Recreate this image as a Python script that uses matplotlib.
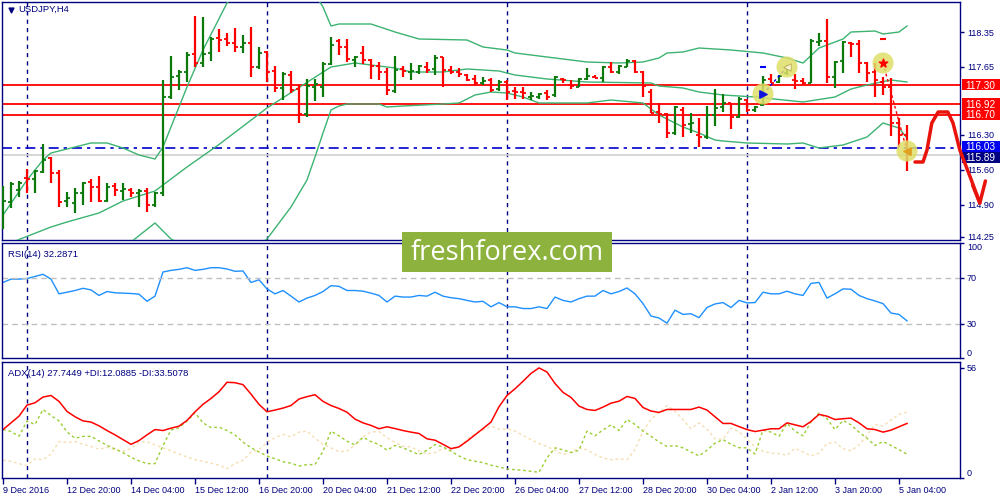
import matplotlib
matplotlib.use('Agg')
import matplotlib.pyplot as plt
import matplotlib.transforms as mtrans
from matplotlib.patches import Rectangle
import numpy as np

# USDJPY H4 bars, 9 Dec 2016 12:00 ... 5 Jan 2017 08:00
opens = [114.79, 114.95, 115.19, 115.43, 115.41, 115.55, 115.83, 115.53, 114.97, 114.93,
         115.13, 115.35, 115.25, 114.97, 115.27, 115.17, 115.19, 115.13, 115.17, 114.89,
         115.13, 117.05, 117.47, 117.55, 117.91, 117.73, 117.93, 118.23, 118.21, 118.13,
         118.05, 118.13, 117.65, 117.95, 117.57, 117.23, 117.49, 117.21, 116.71, 117.25,
         117.25, 117.71, 118.17, 118.05, 117.79, 117.93, 117.79, 117.67, 117.55, 117.17,
         117.61, 117.55, 117.55, 117.65, 117.61, 117.85, 117.59, 117.55, 117.49, 117.41,
         117.33, 117.39, 117.21, 117.35, 117.17, 117.15, 117.05, 117.05, 117.13, 117.09,
         117.41, 117.29, 117.25, 117.41, 117.45, 117.43, 117.65, 117.55, 117.65, 117.77,
         117.55, 117.15, 116.75, 116.71, 116.33, 116.79, 116.51, 116.29, 116.25, 116.69,
         116.85, 116.93, 116.65, 116.99, 116.79, 116.89, 117.41, 117.35, 117.53, 117.39,
         117.37, 117.33, 118.15, 118.17, 117.45, 117.77, 118.13, 118.11, 117.73, 117.55,
         117.35, 117.25, 116.53, 116.29]
highs = [115.27, 115.35, 115.37, 115.61, 115.59, 116.11, 115.85, 115.59, 115.15, 115.23,
         115.35, 115.41, 115.47, 115.33, 115.33, 115.33, 115.23, 115.21, 115.23, 115.15,
         117.39, 117.87, 117.59, 117.95, 118.67, 118.65, 118.25, 118.41, 118.33, 118.43,
         118.29, 118.45, 118.05, 117.97, 117.67, 117.55, 117.57, 117.29, 117.41, 117.41,
         117.75, 118.25, 118.21, 118.21, 117.87, 118.07, 117.81, 117.75, 117.63, 117.87,
         117.67, 117.73, 117.69, 117.75, 117.89, 117.85, 117.67, 117.63, 117.51, 117.49,
         117.45, 117.43, 117.39, 117.39, 117.25, 117.25, 117.15, 117.13, 117.19, 117.47,
         117.43, 117.39, 117.43, 117.63, 117.49, 117.67, 117.75, 117.69, 117.81, 117.79,
         117.57, 117.21, 116.93, 116.73, 116.87, 116.85, 116.73, 116.63, 116.87, 117.21,
         117.11, 116.93, 117.05, 117.01, 116.87, 117.47, 117.51, 117.49, 117.69, 117.51,
         117.43, 118.21, 118.33, 118.61, 117.77, 118.17, 118.15, 118.19, 117.75, 117.73,
         117.45, 117.43, 116.63, 116.49]
lows = [114.41, 114.83, 115.05, 115.13, 115.13, 115.53, 115.33, 114.85, 114.85, 114.73,
        114.89, 114.95, 114.95, 114.95, 115.07, 114.99, 115.05, 114.85, 114.75, 114.85,
        115.07, 117.01, 117.19, 117.35, 117.65, 117.65, 117.77, 117.95, 118.07, 117.95,
        117.93, 117.45, 117.61, 117.35, 117.15, 116.99, 117.13, 116.53, 116.65, 116.97,
        117.05, 117.69, 117.89, 117.75, 117.65, 117.71, 117.41, 117.39, 117.09, 117.13,
        117.45, 117.39, 117.51, 117.53, 117.49, 117.25, 117.51, 117.45, 117.37, 117.29,
        117.29, 117.15, 117.17, 116.99, 117.01, 117.01, 116.99, 117.01, 116.99, 117.05,
        117.33, 117.21, 117.25, 117.39, 117.43, 117.35, 117.53, 117.51, 117.65, 117.53,
        117.05, 116.73, 116.53, 116.23, 116.29, 116.25, 116.33, 116.05, 116.21, 116.47,
        116.75, 116.41, 116.63, 116.75, 116.75, 116.87, 117.33, 117.33, 117.49, 117.21,
        117.29, 117.33, 118.07, 117.33, 117.23, 117.53, 117.85, 117.53, 117.35, 117.05,
        117.09, 116.27, 116.05, 115.57]
closes = [114.97, 115.31, 115.33, 115.41, 115.57, 115.79, 115.53, 114.95, 115.03, 115.13,
          115.33, 115.25, 114.97, 115.25, 115.19, 115.21, 115.13, 115.17, 114.89, 115.13,
          117.05, 117.45, 117.55, 117.89, 117.73, 117.91, 118.21, 118.19, 118.13, 118.05,
          118.13, 117.65, 117.93, 117.55, 117.23, 117.51, 117.19, 116.71, 117.27, 117.31,
          117.71, 118.09, 118.05, 117.81, 117.85, 117.79, 117.67, 117.55, 117.19, 117.59,
          117.57, 117.57, 117.67, 117.59, 117.83, 117.59, 117.55, 117.51, 117.39, 117.33,
          117.37, 117.19, 117.35, 117.15, 117.15, 117.13, 117.07, 117.11, 117.05, 117.45,
          117.39, 117.27, 117.41, 117.47, 117.44, 117.65, 117.55, 117.67, 117.77, 117.55,
          117.27, 116.73, 116.71, 116.33, 116.85, 116.49, 116.53, 116.25, 116.69, 116.83,
          116.93, 116.65, 117.01, 116.79, 116.85, 117.39, 117.33, 117.47, 117.65, 117.37,
          117.33, 118.17, 118.17, 117.45, 117.75, 118.15, 118.11, 117.73, 117.53, 117.39,
          117.25, 116.53, 116.29, 115.89]

# Bollinger bands (bar index, price)
upper_idx = [0, 3, 5, 6, 9, 11, 13, 15, 17, 19, 20, 23, 25, 28, 31, 35, 38, 40, 41, 42,
             46, 49, 52, 58, 60, 63, 64, 69, 73, 77, 80, 82, 83, 85, 87, 91, 95, 98, 100,
             102, 105, 106, 109, 110, 112, 113]
upper = [114.69, 115.39, 115.79, 115.93, 116.05, 116.13, 116.13, 116.03, 115.89, 115.81,
         116.05, 117.25, 117.99, 118.93, 119.40, 119.60, 119.35, 118.85, 118.47, 118.51,
         118.51, 118.35, 118.21, 118.19, 118.05, 117.99, 117.93, 117.83, 117.75, 117.73,
         117.75, 117.83, 117.93, 117.95, 118.03, 117.99, 117.93, 117.83, 117.73, 118.03,
         118.21, 118.35, 118.37, 118.31, 118.35, 118.47]
middle_idx = [0, 2, 6, 8, 12, 15, 19, 20, 23, 27, 33, 41, 44, 49, 51, 55, 58, 62, 64, 68,
              73, 81, 82, 85, 87, 90, 94, 100, 104, 106, 108, 111, 113]
middle = [114.05, 114.20, 114.45, 114.55, 114.73, 114.97, 115.17, 115.29, 115.65, 116.10,
          116.83, 117.65, 117.73, 117.63, 117.55, 117.55, 117.61, 117.57, 117.49, 117.41,
          117.35, 117.33, 117.27, 117.23, 117.15, 117.09, 117.05, 116.95, 117.05, 117.21,
          117.29, 117.39, 117.35]
lower_idx = [0, 6, 11, 15, 16, 19, 21, 23, 28, 33, 36, 38, 39, 40, 41, 42, 43, 47, 48, 50,
             55, 57, 59, 61, 63, 65, 67, 73, 76, 80, 82, 84, 85, 87, 89, 90, 93, 98, 100,
             102, 105, 108, 110, 112, 113]
lower = [113.40, 113.00, 113.10, 113.95, 114.15, 114.53, 114.21, 114.05, 113.65, 114.21,
         114.85, 115.39, 115.85, 116.33, 116.79, 116.87, 116.91, 116.91, 116.85, 116.87,
         116.91, 116.93, 117.09, 117.15, 117.13, 117.05, 116.93, 116.93, 116.99, 116.93,
         116.69, 116.53, 116.45, 116.33, 116.19, 116.17, 116.13, 116.11, 116.13, 116.03,
         116.09, 116.25, 116.53, 116.43, 116.23]

rsi = [65.7, 68.6, 68.6, 69.1, 70.9, 72.8, 68.6, 55.8, 57.2, 58.7,
       60.6, 59.2, 54.4, 57.8, 56.7, 56.4, 56.1, 55.5, 49.3, 53.8,
       74.8, 76.2, 77.1, 78.5, 76.2, 77.1, 78.5, 78.5, 77.4, 75.4,
       75.7, 65.7, 68.0, 60.1, 55.8, 58.7, 53.8, 48.7, 52.1, 54.4,
       57.8, 62.9, 62.3, 58.7, 58.7, 58.1, 56.4, 54.4, 48.7, 53.8,
       53.0, 53.0, 54.4, 53.8, 57.2, 53.8, 52.4, 51.6, 50.1, 48.7,
       49.3, 44.5, 48.2, 44.5, 44.5, 43.0, 43.0, 44.5, 43.0, 53.0,
       50.1, 48.7, 51.6, 53.8, 53.8, 58.7, 55.8, 57.8, 60.9, 55.8,
       47.3, 36.5, 34.8, 30.3, 41.6, 37.9, 38.5, 35.1, 43.9, 47.0,
       48.2, 43.9, 50.1, 47.9, 48.2, 57.2, 55.8, 55.8, 58.1, 55.8,
       54.4, 64.9, 65.7, 52.1, 55.8, 60.1, 59.8, 54.4, 51.6, 49.6,
       47.3, 39.1, 37.9, 32.3]

adx = [24.6, 28.0, 31.4, 37.0, 38.2, 41.1, 41.9, 38.9, 33.8, 31.1,
       29.0, 28.4, 26.5, 24.1, 21.9, 19.5, 17.1, 19.0, 21.9, 24.6,
       24.1, 25.3, 26.3, 29.2, 33.6, 37.4, 40.4, 43.8, 48.6, 48.4,
       47.4, 42.6, 37.4, 33.6, 34.5, 35.5, 36.8, 40.1, 41.3, 42.3,
       38.9, 36.8, 35.3, 33.4, 29.9, 28.0, 26.7, 25.0, 26.0, 25.1,
       24.1, 23.3, 22.6, 19.9, 19.2, 17.1, 14.9, 15.8, 18.7, 21.9,
       25.1, 28.4, 36.2, 41.9, 45.3, 49.1, 53.1, 55.9, 53.8, 48.0,
       43.5, 40.9, 36.5, 34.8, 34.3, 36.0, 38.0, 39.0, 41.4, 40.4,
       35.8, 34.0, 33.3, 34.8, 34.8, 34.8, 34.8, 36.0, 34.5, 31.1,
       27.7, 27.7, 26.1, 24.6, 23.6, 24.3, 25.0, 25.0, 28.0, 27.0,
       26.0, 28.7, 32.3, 31.4, 29.7, 30.1, 30.4, 28.0, 25.0, 24.6,
       23.3, 24.3, 26.0, 27.7]
plus_di = [24.6, 23.6, 21.2, 28.9, 27.2, 34.8, 31.7, 29.0, 23.4, 20.2,
           21.1, 21.2, 18.8, 16.6, 14.8, 12.9, 10.5, 8.7, 7.3, 7.3,
           16.5, 24.4, 25.5, 28.9, 33.1, 28.0, 25.6, 25.8, 24.1, 21.9,
           18.2, 15.4, 13.2, 11.2, 9.8, 8.3, 7.5, 6.1, 6.8, 6.8,
           13.6, 23.8, 21.4, 18.7, 16.8, 20.7, 18.5, 17.0, 14.1, 16.5,
           15.3, 13.6, 11.9, 14.1, 17.0, 15.8, 13.6, 11.2, 9.3, 8.5,
           7.8, 6.5, 5.6, 4.6, 4.2, 3.9, 3.4, 2.9, 10.2, 15.3,
           14.3, 12.9, 14.1, 23.8, 21.4, 24.4, 27.0, 24.1, 29.7, 27.2,
           23.8, 21.2, 18.3, 16.0, 16.5, 15.3, 13.2, 11.2, 14.1, 17.7,
           19.5, 17.1, 15.4, 15.3, 12.2, 24.3, 23.3, 21.2, 27.7, 23.8,
           21.4, 28.5, 32.9, 30.1, 24.6, 29.2, 27.0, 23.3, 20.2, 16.5,
           18.5, 16.5, 14.4, 12.1]
minus_di = [9.0, 8.5, 7.3, 6.3, 9.7, 9.3, 12.1, 18.5, 18.0, 18.5,
            17.1, 16.0, 14.6, 15.6, 14.3, 13.6, 14.9, 18.2, 18.5, 16.8,
            15.3, 13.8, 12.1, 10.7, 9.3, 8.5, 7.5, 6.5, 4.8, 7.3,
            9.0, 13.1, 14.4, 18.0, 20.5, 22.1, 20.9, 23.3, 23.8, 20.2,
            17.1, 15.3, 13.4, 13.6, 16.8, 20.9, 23.4, 23.6, 20.5, 18.0,
            16.1, 15.8, 13.8, 12.2, 12.9, 14.9, 14.4, 15.6, 19.5, 22.6,
            24.3, 26.3, 24.8, 25.0, 23.8, 21.6, 19.5, 17.5, 16.0, 14.1,
            11.9, 13.1, 15.3, 14.3, 11.9, 10.2, 9.3, 9.7, 9.3, 14.4,
            23.8, 29.7, 33.3, 36.8, 34.0, 29.7, 25.0, 28.0, 24.8, 19.9,
            19.7, 25.3, 23.4, 19.7, 15.8, 13.6, 12.6, 12.4, 11.5, 15.1,
            13.2, 11.2, 12.6, 17.5, 18.2, 14.9, 13.8, 16.8, 21.7, 27.2,
            26.3, 29.5, 32.3, 33.5]

# horizontal levels and price labels
red_levels = [117.30, 116.92, 116.70]
pending_level = 116.03
bid_price = 115.89
price_ticks = [118.35, 117.65, 116.30, 115.60, 114.90, 114.25]

date_pos = list(range(0, 113, 8))
date_labels = ['9 Dec 2016', '12 Dec 20:00', '14 Dec 04:00', '15 Dec 12:00', '16 Dec 20:00',
               '20 Dec 04:00', '21 Dec 12:00', '22 Dec 20:00', '26 Dec 04:00', '27 Dec 12:00',
               '28 Dec 20:00', '30 Dec 04:00', '2 Jan 12:00', '3 Jan 20:00', '5 Jan 04:00']
separators = [3, 33, 63, 93]

# trades (bar index, price)
buy_idx = [95, 98]
buy_price = [117.11, 117.65]
sell_idx = [110, 113]
sell_price = [117.73, 115.97]
buy_tp = (95, 117.65)
sell_sl = (110, 118.21)

# hand drawn forecast arrow (bar index, price)
arrow_idx = [114.0, 115.0, 115.5, 116.1, 116.9, 118.1, 118.75, 119.6, 120.9, 122.1]
arrow_price = [115.75, 115.75, 115.99, 116.53, 116.75, 116.75, 116.53, 115.99, 115.45, 114.93]
head_idx = [121.2, 122.1, 122.8]
head_price = [115.29, 114.93, 115.37]

NAVY = '#000080'
GREEN = '#0b7a0b'
RED = '#ff0000'
plt.rcParams['font.family'] = ['Liberation Sans', 'DejaVu Sans']
plt.rcParams['font.size'] = 6.5


def px_rect(x0, y0, x1, y1):
    return [x0 / 1000, 1 - y1 / 500, (x1 - x0) / 1000, (y1 - y0) / 500]


fig = plt.figure(figsize=(10, 5), dpi=100)
fig.patch.set_facecolor('white')
ax = fig.add_axes(px_rect(2, 2, 960, 240))
ax_rsi = fig.add_axes(px_rect(2, 243, 960, 358))
ax_adx = fig.add_axes(px_rect(2, 362, 960, 478))

for a in (ax, ax_rsi, ax_adx):
    a.set_xlim(-0.125, 119.625)
    for s in a.spines.values():
        s.set_color(NAVY)
        s.set_linewidth(1)
    a.yaxis.tick_right()
    a.tick_params(axis='y', colors=NAVY, length=3, width=1, pad=2, labelsize=6.5)
    a.tick_params(axis='x', colors=NAVY, length=4, width=1)
    for sx in separators:
        a.axvline(sx, color=NAVY, lw=1, ls=(0, (3, 3)), zorder=1)

# ---- main price panel
x = np.arange(len(closes))
o = np.array(opens)
c = np.array(closes)
cols = np.where(c > o, GREEN, RED)
ax.set_ylim(114.19, 118.95)
ax.set_yticks(price_ticks)
ax.set_yticklabels(['%.2f' % p for p in price_ticks])
ax.set_xticks([])

for lvl in red_levels:
    ax.axhline(lvl, color=RED, lw=1.3, zorder=2)
ax.axhline(pending_level, color='#0000cd', lw=1.2, ls=(0, (6, 3, 2, 3)), zorder=2)
ax.axhline(bid_price, color='#cfcfcf', lw=1.2, zorder=1)

band_col = '#3cb371'
ax.plot(upper_idx, upper, color=band_col, lw=1, zorder=3)
ax.plot(middle_idx, middle, color=band_col, lw=1, zorder=3)
ax.plot(lower_idx, lower, color=band_col, lw=1, zorder=3)

ax.vlines(x, lows, highs, colors=cols, lw=1.6, zorder=4)
ax.hlines(opens, x - 0.42, x, colors=cols, lw=1.3, zorder=4)
ax.hlines(closes, x, x + 0.42, colors=cols, lw=1.3, zorder=4)

# trade lines and markers
ax.plot(buy_idx, buy_price, color='#0000ff', lw=1, ls=(0, (2, 2)), zorder=5)
ax.plot(sell_idx, sell_price, color=RED, lw=1, ls=(0, (2, 2)), zorder=5)
ax.hlines(buy_tp[1], buy_tp[0] - 0.4, buy_tp[0] + 0.4, color='#0000ff', lw=1.5, zorder=5)
ax.hlines(sell_sl[1], sell_sl[0] - 0.4, sell_sl[0] + 0.4, color=RED, lw=1.5, zorder=5)
ax.scatter(buy_idx + sell_idx, buy_price + sell_price, s=230, color='#dede6a',
           alpha=0.85, edgecolors='none', zorder=6)
ax.scatter([buy_idx[0]], [buy_price[0]], marker='>', s=28, color='#1010e0', zorder=7)
ax.scatter([buy_idx[1]], [buy_price[1]], marker='<', s=28, color='#f4f4d0',
           edgecolors='#b0a040', linewidths=0.5, zorder=7)
ax.scatter([sell_idx[0]], [sell_price[0]], marker='*', s=40, color=RED, zorder=7)
ax.scatter([sell_idx[1]], [sell_price[1]], marker='<', s=28, color='#e0a020', zorder=7)

# right hand price boxes: (value, colour, vertical shift in px)
tr = mtrans.blended_transform_factory(ax.transAxes, ax.transData)
box_specs = [(red_levels[0], RED, 0), (red_levels[1], RED, 0), (red_levels[2], RED, 0),
             (pending_level, '#0000f0', 1.5), (bid_price, NAVY, -2.0)]
px_price = (118.95 - 114.19) / 238
box_w = 40 / 958
for val, fc, shift in box_specs:
    yc = val + shift * px_price
    ax.add_patch(Rectangle((1.002, yc - 5.5 * px_price), box_w, 11 * px_price,
                           transform=tr, facecolor=fc, edgecolor='none',
                           clip_on=False, zorder=14))
    ax.text(1.006, yc, '%.2f' % val, transform=tr, color='white', fontsize=7.2,
            va='center_baseline', ha='left', clip_on=False, zorder=15)

# forecast arrow
ax.plot(arrow_idx, arrow_price, color='#e8140c', lw=2.5, solid_capstyle='round',
        solid_joinstyle='round', clip_on=False, zorder=20)
ax.plot(head_idx, head_price, color='#e8140c', lw=2.5, solid_capstyle='round',
        solid_joinstyle='round', clip_on=False, zorder=20)

ax.text(0.017, 0.97, 'USDJPY,H4', transform=ax.transAxes, color=NAVY, fontsize=6.8,
        va='center', ha='left')
ax.scatter([0.009], [0.968], marker='v', s=12, color=NAVY, transform=ax.transAxes,
           clip_on=False)

# ---- RSI panel
ax_rsi.plot(x, rsi, color='#1e90ff', lw=1)
ax_rsi.axhline(70, color='#c0c0c0', lw=1, ls=(0, (4, 3)))
ax_rsi.axhline(30, color='#c0c0c0', lw=1, ls=(0, (4, 3)))
ax_rsi.set_ylim(0, 100)
ax_rsi.set_yticks([100, 70, 30, 0])
ax_rsi.set_yticklabels(['100', '70', '30', '0'])
lbls = ax_rsi.get_yticklabels()
lbls[0].set_va('top')
lbls[3].set_va('bottom')
ax_rsi.set_xticks([])
ax_rsi.text(0.006, 0.9, 'RSI(14) 32.2871', transform=ax_rsi.transAxes, color=NAVY,
            fontsize=6.8, va='center', ha='left')

# ---- ADX panel
ax_adx.plot(x, minus_di, color='#f5deb3', lw=1, ls=(0, (2, 2)))
ax_adx.plot(x, plus_di, color='#9acd32', lw=1, ls=(0, (2, 2)))
ax_adx.plot(x, adx, color=RED, lw=1.1)
ax_adx.set_ylim(0, 58.9)
ax_adx.set_yticks([56, 0])
ax_adx.set_yticklabels(['56', '0'])
ax_adx.get_yticklabels()[1].set_va('bottom')
ax_adx.set_xticks(date_pos)
ax_adx.set_xticklabels(date_labels)
for lb in ax_adx.get_xticklabels():
    lb.set_ha('left')
ax_adx.tick_params(axis='x', pad=1.5, labelsize=6.5)
ax_adx.text(0.006, 0.9, 'ADX(14) 27.7449 +DI:12.0885 -DI:33.5078', transform=ax_adx.transAxes,
            color=NAVY, fontsize=6.8, va='center', ha='left')

# watermark
fig.patches.append(Rectangle((402 / 1000, 1 - 272 / 500), 210 / 1000, 40 / 500,
                             transform=fig.transFigure, facecolor='#8db33e',
                             edgecolor='none', zorder=30))
fig.text(507 / 1000, 1 - 253 / 500, 'freshforex.com', fontsize=19.5,
         family=['Open Sans', 'DejaVu Sans'], color='white', ha='center', va='center',
         zorder=31)

fig.savefig('out.png', dpi=100)
